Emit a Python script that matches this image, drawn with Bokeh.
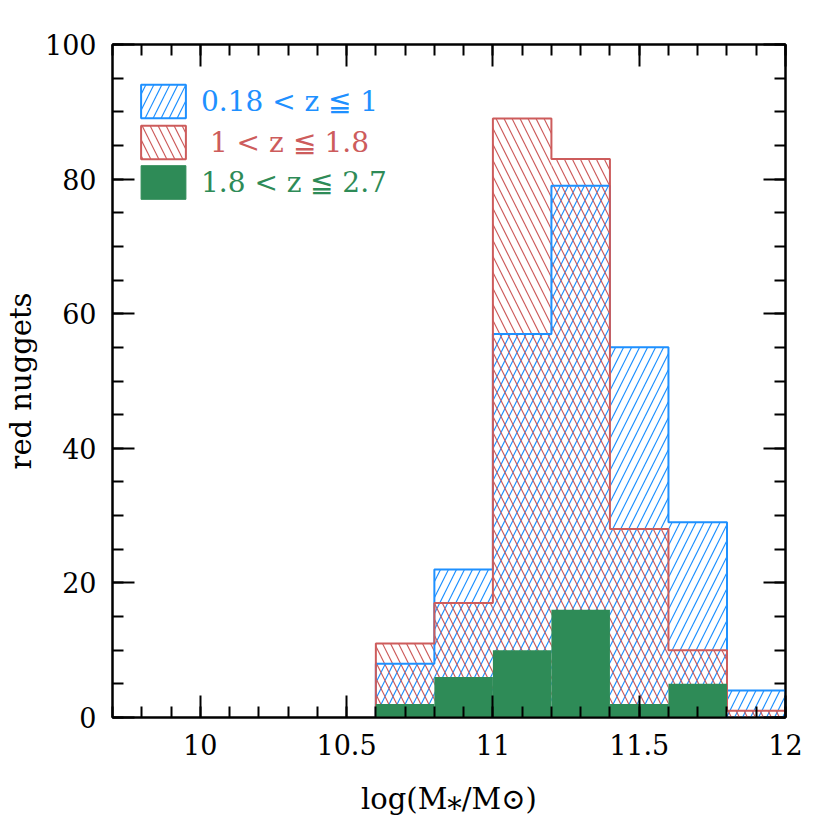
from bokeh.plotting import figure
from bokeh.models import Legend, LegendItem, LinearAxis, FixedTicker, Range1d, CustomJSTickFormatter
from bokeh.embed import file_html
from bokeh.resources import INLINE

# ---- data ----
bin_edges = [10.6, 10.8, 11.0, 11.2, 11.4, 11.6, 11.8, 12.0]
counts_low = [8, 22, 57, 79, 55, 29, 4]      # 0.18 < z <= 1
counts_mid = [11, 17, 89, 83, 28, 10, 1]     # 1 < z <= 1.8
counts_high = [2, 6, 10, 16, 2, 5, 0]        # 1.8 < z <= 2.7
series_labels = ["0.18 < z ≦ 1", " 1 < z ≦ 1.8", "1.8 < z ≦ 2.7"]
x_ticks = [10, 10.5, 11, 11.5, 12]
x_tick_labels = ["10", "10.5", "11", "11.5", "12"]
y_ticks = [0, 20, 40, 60, 80, 100]
y_tick_labels = ["0", "20", "40", "60", "80", "100"]
x_label = "log(M⁎/M⊙)"
y_label = "red nuggets"

BLUE = "#1e90ff"
RED = "#cd5c5c"
GREEN = "#2e8b57"
FONT = "DejaVu Serif"
HS = 16

x_minor = [round(9.7 + 0.1 * i, 2) for i in range(24)]
y_minor = [5 * i for i in range(21)]

p = figure(frame_width=673, frame_height=673,
           x_range=Range1d(9.7, 12.0), y_range=Range1d(0, 100),
           output_backend="svg", toolbar_location=None,
           min_border_left=107, min_border_right=26,
           min_border_top=44, min_border_bottom=90,
           x_axis_label=x_label, y_axis_label=y_label)
p.grid.visible = False
p.outline_line_color = "black"
p.outline_line_width = 2
p.background_fill_color = "white"
p.border_fill_color = "white"


def style_axis(ax, ticks, minor, labels, show_labels=True):
    ax.ticker = FixedTicker(ticks=ticks, minor_ticks=minor)
    ax.major_tick_in = 22
    ax.major_tick_out = 0
    ax.minor_tick_in = 11
    ax.minor_tick_out = 0
    ax.major_tick_line_width = 2
    ax.minor_tick_line_width = 2
    ax.axis_line_width = 2
    ax.major_tick_line_color = "black"
    ax.minor_tick_line_color = "black"
    ax.axis_line_color = "black"
    if show_labels:
        ax.major_label_overrides = {float(t): l for t, l in zip(ticks, labels)}
        ax.major_label_text_font = FONT
        ax.major_label_text_font_size = "27px"
        ax.major_label_text_color = "black"
        ax.major_label_standoff = 16
        ax.axis_label_text_font = FONT
        ax.axis_label_text_font_size = "29px"
        ax.axis_label_text_font_style = "normal"
        ax.axis_label_text_color = "black"
    else:
        ax.formatter = CustomJSTickFormatter(code="return ''")
        ax.major_label_standoff = 0


style_axis(p.xaxis[0], x_ticks, x_minor, x_tick_labels)
style_axis(p.yaxis[0], y_ticks, y_minor, y_tick_labels)
p.xaxis[0].axis_label_standoff = 24
p.yaxis[0].axis_label_standoff = 4

top_ax = LinearAxis()
style_axis(top_ax, x_ticks, x_minor, x_tick_labels, show_labels=False)
p.add_layout(top_ax, "above")
right_ax = LinearAxis()
style_axis(right_ax, y_ticks, y_minor, y_tick_labels, show_labels=False)
p.add_layout(right_ax, "right")

lefts = bin_edges[:-1]
rights = bin_edges[1:]


def outline(counts):
    xs, ys = [bin_edges[0]], [0]
    for l, r, c in zip(lefts, rights, counts):
        xs += [l, r]
        ys += [c, c]
    xs.append(bin_edges[-1])
    ys.append(0)
    return xs, ys


# hatched histograms
p.quad(left=lefts, right=rights, bottom=0, top=counts_low,
       fill_color=None, line_color=None,
       hatch_pattern="/", hatch_color=BLUE, hatch_scale=HS, hatch_weight=1.2)
p.quad(left=lefts, right=rights, bottom=0, top=counts_mid,
       fill_color=None, line_color=None,
       hatch_pattern="\\", hatch_color=RED, hatch_scale=HS, hatch_weight=1.2)

bx, by = outline(counts_low)
p.line(bx, by, line_color=BLUE, line_width=2)
rx, ry = outline(counts_mid)
p.line(rx, ry, line_color=RED, line_width=2)

p.quad(left=lefts, right=rights, bottom=0, top=counts_high,
       fill_color=GREEN, line_color=None)

# legend proxies (hidden copies of the histograms, used only for legend glyphs)
leg_blue = p.quad(left=lefts, right=rights, bottom=0, top=counts_low, fill_color="white",
                  line_color=BLUE, line_width=2,
                  hatch_pattern="/", hatch_color=BLUE, hatch_scale=HS, hatch_weight=1.2,
                  visible=False)
leg_red = p.quad(left=lefts, right=rights, bottom=0, top=counts_mid, fill_color="white",
                 line_color=RED, line_width=2,
                 hatch_pattern="\\", hatch_color=RED, hatch_scale=HS, hatch_weight=1.2,
                 visible=False)
leg_green = p.quad(left=lefts, right=rights, bottom=0, top=counts_high, fill_color=GREEN,
                   line_color=GREEN, line_width=1, visible=False)

for rend, lab, col, vy in [(leg_blue, series_labels[0], BLUE, 595),
                           (leg_red, series_labels[1], RED, 554),
                           (leg_green, series_labels[2], GREEN, 514)]:
    lg = Legend(items=[LegendItem(label=lab, renderers=[rend], index=0)],
                location=(23, vy), padding=0, margin=0,
                glyph_width=56, glyph_height=42, label_standoff=10,
                label_text_font=FONT, label_text_font_size="28px",
                label_text_color=col, label_text_baseline="middle",
                inactive_fill_alpha=0, click_policy="none",
                border_line_color=None, background_fill_alpha=0)
    p.add_layout(lg, "center")

open("out.html", "w").write(file_html(p, INLINE))
